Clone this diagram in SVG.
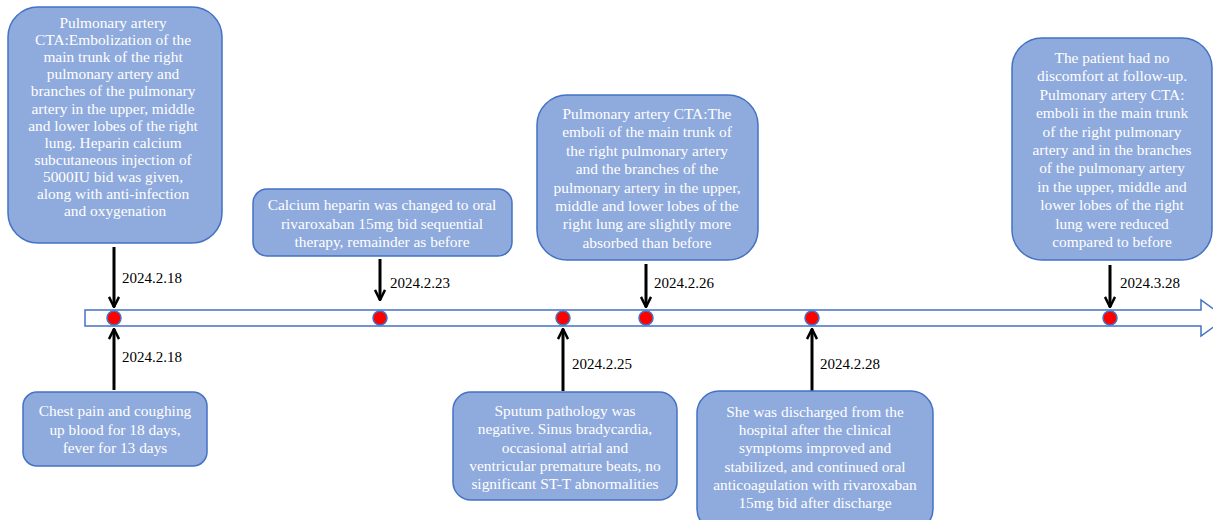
<svg xmlns="http://www.w3.org/2000/svg" width="1213" height="520" viewBox="0 0 1213 520">
<style>
.box{fill:#8faadc;stroke:#4472c4;stroke-width:1.5}
.bt{font-family:"Liberation Serif",serif;font-size:15.4px;fill:#ffffff;text-anchor:middle}
.lbl{font-family:"Liberation Serif",serif;font-size:15px;fill:#000000}
.ar{stroke:#000;stroke-width:3;fill:none;marker-end:url(#ah)}
.dot{fill:#ff0000;stroke:#4472c4;stroke-width:1.5}
</style>
<defs>
<marker id="ah" viewBox="0 0 10 10" refX="9" refY="5" markerWidth="4.2" markerHeight="4.2" orient="auto" markerUnits="strokeWidth">
<path d="M1,1 L9,5 L1,9" fill="none" stroke="#000" stroke-width="2"/>
</marker>
</defs>
<rect width="1213" height="520" fill="#ffffff"/>
<g id="timeline">
<path d="M85,310 H1201 V300 L1226,318 L1201,336 V326 H85 Z" fill="#ffffff" stroke="#4472c4" stroke-width="1.5"/>
<circle class="dot" cx="114" cy="318" r="7"/>
<circle class="dot" cx="380" cy="318" r="7"/>
<circle class="dot" cx="563" cy="318" r="7"/>
<circle class="dot" cx="646" cy="318" r="7"/>
<circle class="dot" cx="812" cy="318" r="7"/>
<circle class="dot" cx="1110" cy="318" r="7"/>
</g>
<g id="connectors">
<line class="ar" x1="114" y1="247" x2="114" y2="307"/>
<line class="ar" x1="380" y1="259" x2="380" y2="300"/>
<line class="ar" x1="646" y1="264" x2="646" y2="307"/>
<line class="ar" x1="1110" y1="265" x2="1110" y2="307"/>
<line class="ar" x1="114" y1="390" x2="114" y2="329"/>
<line class="ar" x1="563" y1="391" x2="563" y2="329"/>
<line class="ar" x1="812" y1="391" x2="812" y2="329"/>
<text class="lbl" x="122" y="283">2024.2.18</text>
<text class="lbl" x="390" y="288">2024.2.23</text>
<text class="lbl" x="654" y="288">2024.2.26</text>
<text class="lbl" x="1120" y="288">2024.3.28</text>
<text class="lbl" x="122" y="362">2024.2.18</text>
<text class="lbl" x="572" y="369">2024.2.25</text>
<text class="lbl" x="820" y="369">2024.2.28</text>
</g>
<g id="n1">
<rect class="box" x="8" y="7" width="214" height="236" rx="30"/>
<text class="bt" x="115" y="28">Pulmonary artery
<tspan x="115" dy="17.1">CTA:Embolization of the</tspan>
<tspan x="115" dy="17.1">main trunk of the right</tspan>
<tspan x="115" dy="17.1">pulmonary artery and</tspan>
<tspan x="115" dy="17.1">branches of the pulmonary</tspan>
<tspan x="115" dy="17.1">artery in the upper, middle</tspan>
<tspan x="115" dy="17.1">and lower lobes of the right</tspan>
<tspan x="115" dy="17.1">lung. Heparin calcium</tspan>
<tspan x="115" dy="17.1">subcutaneous injection of</tspan>
<tspan x="115" dy="17.1">5000IU bid was given,</tspan>
<tspan x="115" dy="17.1">along with anti-infection</tspan>
<tspan x="115" dy="17.1">and oxygenation</tspan></text>
</g>
<g id="n2">
<rect class="box" x="253" y="189" width="259" height="67" rx="14"/>
<text class="bt" x="382" y="210">Calcium heparin was changed to oral<tspan x="382" dy="18.5">rivaroxaban 15mg bid sequential</tspan><tspan x="382" dy="18.5">therapy, remainder as before</tspan></text>
</g>
<g id="n3">
<rect class="box" x="537" y="95" width="221" height="165" rx="30"/>
<text class="bt" x="647" y="119">Pulmonary artery CTA:The<tspan x="647" dy="18.4">emboli of the main trunk of</tspan><tspan x="647" dy="18.4">the right pulmonary artery</tspan><tspan x="647" dy="18.4">and the branches of the</tspan><tspan x="647" dy="18.4">pulmonary artery in the upper,</tspan><tspan x="647" dy="18.4">middle and lower lobes of the</tspan><tspan x="647" dy="18.4">right lung are slightly more</tspan><tspan x="647" dy="18.4">absorbed than before</tspan></text>
</g>
<g id="n4">
<rect class="box" x="1012" y="38" width="200" height="222" rx="30"/>
<text class="bt" x="1112" y="63">The patient had no<tspan x="1112" dy="18.4">discomfort at follow-up.</tspan><tspan x="1112" dy="18.4">Pulmonary artery CTA:</tspan><tspan x="1112" dy="18.4">emboli in the main trunk</tspan><tspan x="1112" dy="18.4">of the right pulmonary</tspan><tspan x="1112" dy="18.4">artery and in the branches</tspan><tspan x="1112" dy="18.4">of the pulmonary artery</tspan><tspan x="1112" dy="18.4">in the upper, middle and</tspan><tspan x="1112" dy="18.4">lower lobes of the right</tspan><tspan x="1112" dy="18.4">lung were reduced</tspan><tspan x="1112" dy="18.4">compared to before</tspan></text>
</g>
<g id="n5">
<rect class="box" x="23" y="392" width="184" height="74" rx="14"/>
<text class="bt" x="115" y="416">Chest pain and coughing<tspan x="115" dy="18.5">up blood for 18 days,</tspan><tspan x="115" dy="18.5">fever for 13 days</tspan></text>
</g>
<g id="n6">
<rect class="box" x="453" y="392" width="224" height="108" rx="18"/>
<text class="bt" x="565" y="416">Sputum pathology was<tspan x="565" dy="18.3">negative. Sinus bradycardia,</tspan><tspan x="565" dy="18.3">occasional atrial and</tspan><tspan x="565" dy="18.3">ventricular premature beats, no</tspan><tspan x="565" dy="18.3">significant ST-T abnormalities</tspan></text>
</g>
<g id="n7">
<rect class="box" x="697" y="391" width="236" height="140" rx="22"/>
<text class="bt" x="815" y="417">She was discharged from the<tspan x="815" dy="18.2">hospital after the clinical</tspan><tspan x="815" dy="18.2">symptoms improved and</tspan><tspan x="815" dy="18.2">stabilized, and continued oral</tspan><tspan x="815" dy="18.2">anticoagulation with rivaroxaban</tspan><tspan x="815" dy="18.2">15mg bid after discharge</tspan></text>
</g>
</svg>
